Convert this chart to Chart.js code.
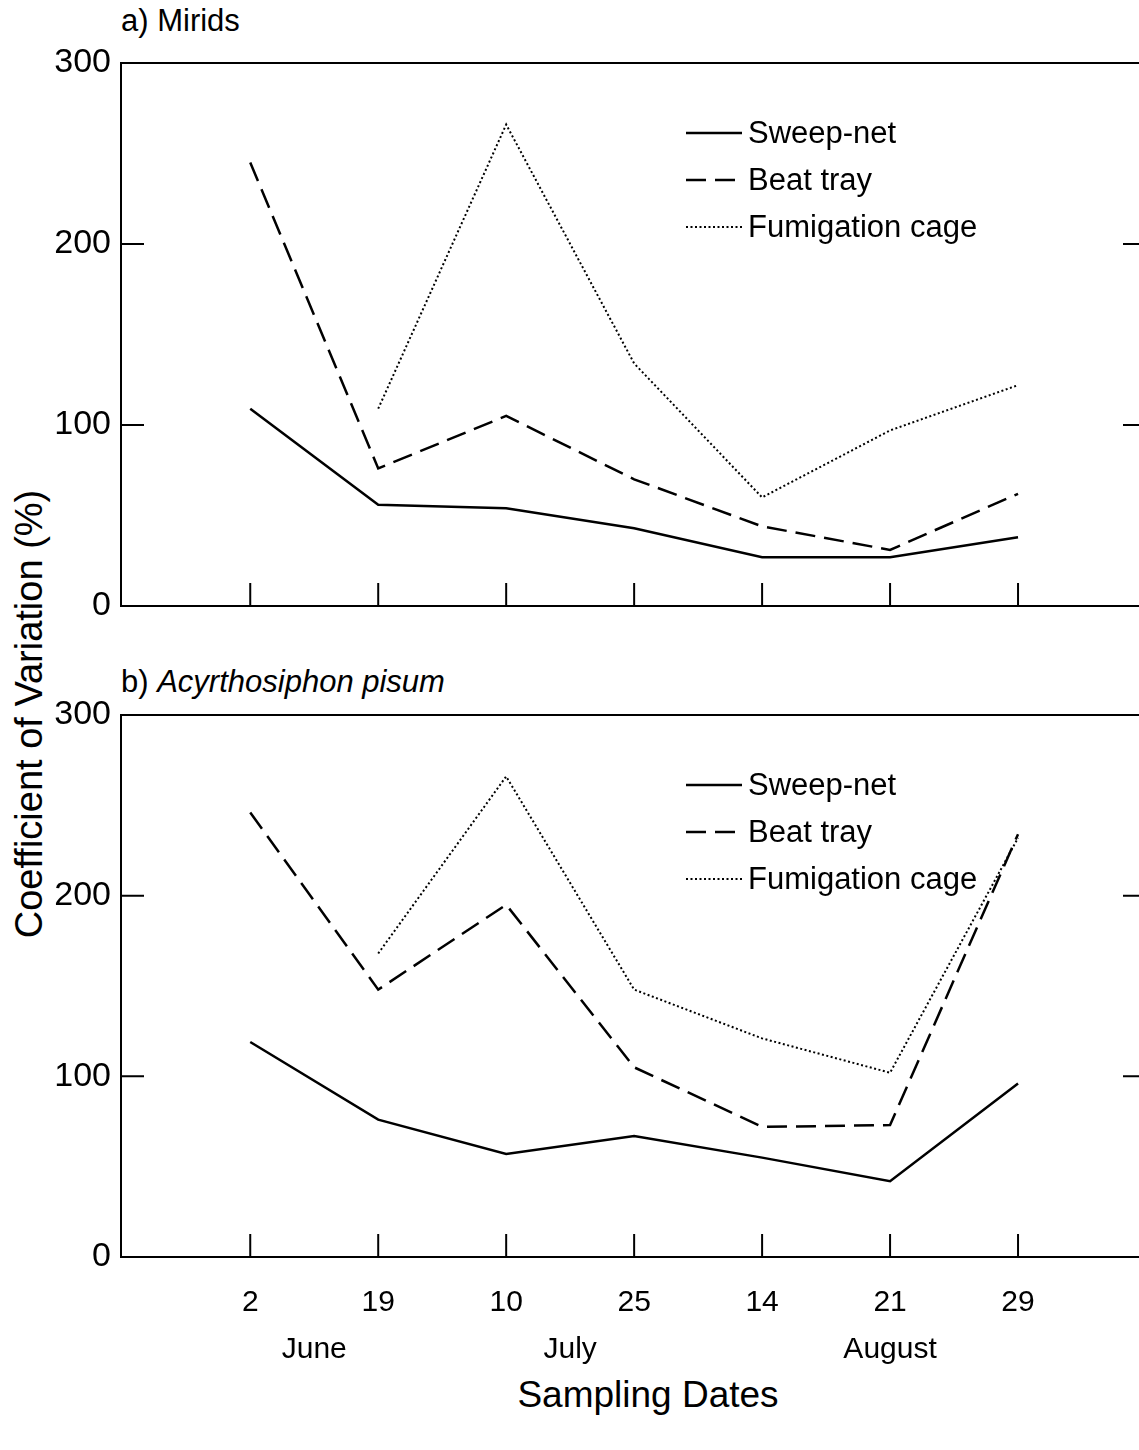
<!DOCTYPE html>
<html>
<head>
<meta charset="utf-8">
<script src="https://cdn.jsdelivr.net/npm/chart.js@4.4.1/dist/chart.umd.min.js"></script>
<style>
  html, body { margin: 0; padding: 0; background: #fff; }
  body { width: 1139px; height: 1450px; overflow: hidden; position: relative; font-family: "Liberation Sans", Arial, sans-serif; color: #000; }
  canvas { position: absolute; left: 0; }
  #mirids-chart { top: 0; }
  #aphid-chart { top: 650px; }
  .panel-title { position: absolute; left: 121px; font-size: 31px; line-height: 36px; }
  #title-a { top: 3px; }
  #title-b { top: 664px; }
  #y-title { position: absolute; left: 29px; top: 714px; font-size: 38px; white-space: nowrap; transform: translate(-50%, -50%) rotate(-90deg); }
  #x-title { position: absolute; left: 648px; top: 1395px; font-size: 37px; white-space: nowrap; transform: translate(-50%, -50%); }
</style>
</head>
<body>
<div class="panel-title" id="title-a">a) Mirids</div>
<div class="panel-title" id="title-b">b) <i>Acyrthosiphon pisum</i></div>
<div id="y-title">Coefficient of Variation (%)</div>
<div id="x-title">Sampling Dates</div>
<canvas id="mirids-chart" width="1160" height="640"></canvas>
<canvas id="aphid-chart" width="1160" height="800"></canvas>
<script>
const dates = ["2", "19", "10", "25", "14", "21", "29"];
const dateMonths = ["June", "June", "July", "July", "August", "August", "August"];
const yTicks = [0, 100, 200, 300];
const seriesNames = ["Sweep-net", "Beat tray", "Fumigation cage"];

// a) Mirids
const miridsSweep = [109, 56, 54, 43, 27, 27, 38];
const miridsBeat = [245, 76, 105, 70, 44, 31, 62];
const miridsFumig = [null, 109, 266, 134, 60, 97, 122];

// b) Acyrthosiphon pisum
const aphidSweep = [119, 76, 57, 67, 55, 42, 96];
const aphidBeat = [246, 148, 195, 105, 72, 73, 234];
const aphidFumig = [null, 168, 266, 148, 121, 102, 232];

const FONT = "'Liberation Sans', Arial, sans-serif";
const lineStyles = [
  { borderDash: [], borderWidth: 2.5 },
  { borderDash: [20, 9], borderWidth: 2.5 },
  { borderDash: [2, 2.5], borderWidth: 2 },
];

// month label sits under the middle of its sampling dates
const months = [...new Set(dateMonths)];
const monthCenters = months.map((m) => {
  const idx = dateMonths.map((d, i) => (d === m ? i : -1)).filter((i) => i >= 0);
  return idx.reduce((a, b) => a + b, 0) / idx.length;
});

// frame, inward tick marks and the line-style key
const framePlugin = {
  id: "frame",
  afterDraw(chart) {
    const { ctx, chartArea: a, scales } = chart;
    ctx.save();
    ctx.strokeStyle = "#000";
    ctx.lineWidth = 2;
    ctx.setLineDash([]);
    ctx.strokeRect(a.left, a.top, a.right - a.left, a.bottom - a.top);
    dates.forEach((d, i) => {
      const x = scales.x.getPixelForValue(i);
      ctx.beginPath();
      ctx.moveTo(x, a.bottom);
      ctx.lineTo(x, a.bottom - 23);
      ctx.stroke();
    });
    yTicks.slice(1, -1).forEach((v) => {
      const y = scales.y.getPixelForValue(v);
      ctx.beginPath();
      ctx.moveTo(a.left, y);
      ctx.lineTo(a.left + 23, y);
      ctx.moveTo(a.right, y);
      ctx.lineTo(a.right - 23, y);
      ctx.stroke();
    });

    const x0 = a.left + 565;
    ctx.font = "31px " + FONT;
    ctx.fillStyle = "#000";
    ctx.textBaseline = "middle";
    chart.data.datasets.forEach((ds, i) => {
      const y = a.top + 70 + i * 47;
      ctx.lineWidth = ds.borderWidth;
      ctx.setLineDash(ds.borderDash);
      ctx.beginPath();
      ctx.moveTo(x0, y);
      ctx.lineTo(x0 + 56, y);
      ctx.stroke();
      ctx.fillText(ds.label, x0 + 62, y + 1);
    });
    ctx.restore();
  },
};

function makePanel(canvasId, values, withDates, padTop, padBottom) {
  const datasets = values.map((vals, s) => ({
    label: seriesNames[s],
    data: vals.map((v, i) => ({ x: i, y: v })),
    borderColor: "#000",
    borderDash: lineStyles[s].borderDash,
    borderWidth: lineStyles[s].borderWidth,
    pointRadius: 0,
    tension: 0,
    fill: false,
    spanGaps: false,
  }));

  const scales = {
    x: {
      type: "linear",
      min: -1.01,
      max: 7,
      grid: { display: false },
      border: { display: false },
      afterBuildTicks: (scale) => {
        scale.ticks = dates.map((d, i) => ({ value: i }));
      },
      afterFit: (scale) => {
        scale.height = withDates ? 60 : 0;
      },
      ticks: {
        display: withDates,
        autoSkip: false,
        maxRotation: 0,
        padding: 20,
        color: "#000",
        font: { family: FONT, size: 30 },
        callback: (v) => dates[v] ?? "",
      },
    },
    y: {
      min: 0,
      max: 300,
      grid: { display: false },
      border: { display: false },
      afterBuildTicks: (scale) => {
        scale.ticks = yTicks.map((v) => ({ value: v }));
      },
      afterFit: (scale) => {
        scale.width = 121;
      },
      ticks: {
        padding: 2,
        color: "#000",
        font: { family: FONT, size: 34 },
      },
    },
  };

  if (withDates) {
    scales.xMonth = {
      type: "linear",
      position: "bottom",
      min: -1.01,
      max: 7,
      grid: { display: false },
      border: { display: false },
      afterBuildTicks: (scale) => {
        scale.ticks = monthCenters.map((c) => ({ value: c }));
      },
      afterFit: (scale) => {
        scale.height = 133;
      },
      ticks: {
        autoSkip: false,
        maxRotation: 0,
        padding: 7,
        color: "#000",
        font: { family: FONT, size: 30 },
        callback: (v) => months[monthCenters.indexOf(v)] ?? "",
      },
    };
  }

  return new Chart(document.getElementById(canvasId), {
    type: "line",
    data: { datasets },
    options: {
      responsive: false,
      animation: false,
      layout: { padding: { top: padTop, bottom: padBottom, left: 0, right: 14 } },
      plugins: { legend: { display: false }, tooltip: { enabled: false } },
      scales,
    },
    plugins: [framePlugin],
  });
}

makePanel("mirids-chart", [miridsSweep, miridsBeat, miridsFumig], false, 63, 34);
makePanel("aphid-chart", [aphidSweep, aphidBeat, aphidFumig], true, 65, 0);
</script>
</body>
</html>
